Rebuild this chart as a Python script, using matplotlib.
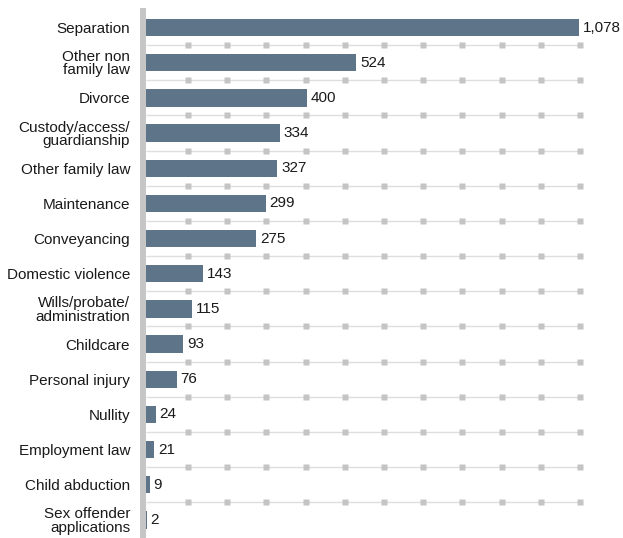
import numpy as np
import matplotlib.pyplot as plt

categories = ["Separation", "Other non\nfamily law", "Divorce", "Custody/access/\nguardianship",
              "Other family law", "Maintenance", "Conveyancing", "Domestic violence",
              "Wills/probate/\nadministration", "Childcare", "Personal injury", "Nullity",
              "Employment law", "Child abduction", "Sex offender\napplications"]
values = [1078, 524, 400, 334, 327, 299, 275, 143, 115, 93, 76, 24, 21, 9, 2]

plt.rcParams['font.family'] = ['Liberation Sans', 'DejaVu Sans']

fig = plt.figure(figsize=(6.23, 5.38), dpi=100)
W, H = 623, 538
ax = fig.add_axes([146 / W, 0.5 / H, (583 - 146) / W, (527.5) / H])

bar_color = '#5e7489'
y = np.arange(len(values))
ax.barh(y, values, height=0.49, color=bar_color, zorder=3)

xmax = 1078 * 437 / 433
ax.set_xlim(0, xmax)
ax.set_ylim(len(values) - 0.5, -0.5)

# separators between rows with small square ticks
marks = np.linspace(xmax * 42 / 437, xmax * 434 / 437, 11)
for i in range(len(values) - 1):
    yy = i + 0.5
    ax.plot([0, xmax], [yy, yy], color='#dedede', lw=1.0, zorder=1, solid_capstyle='butt')
    ax.plot(marks, [yy] * len(marks), ls='none', marker='s', ms=4.2,
            color='#c4c4c4', mec='none', zorder=2)

for yi, v in zip(y, values):
    ax.text(v + 9, yi, f"{v:,}", va='center', ha='left', fontsize=11, color='#1a1a1a')

ax.set_yticks(y)
ax.set_yticklabels(categories, fontsize=11, color='#1a1a1a', linespacing=0.92)
ax.tick_params(axis='y', length=0, pad=11.5)
ax.set_xticks([])
for s in ['top', 'right', 'bottom', 'left']:
    ax.spines[s].set_visible(False)

# thick grey axis bar on the left
fig.add_artist(plt.Rectangle((140 / W, 0), 5.5 / W, (538 - 8) / H,
                             transform=fig.transFigure, color='#c6c6c6', lw=0))

fig.savefig('out.png', dpi=100)
